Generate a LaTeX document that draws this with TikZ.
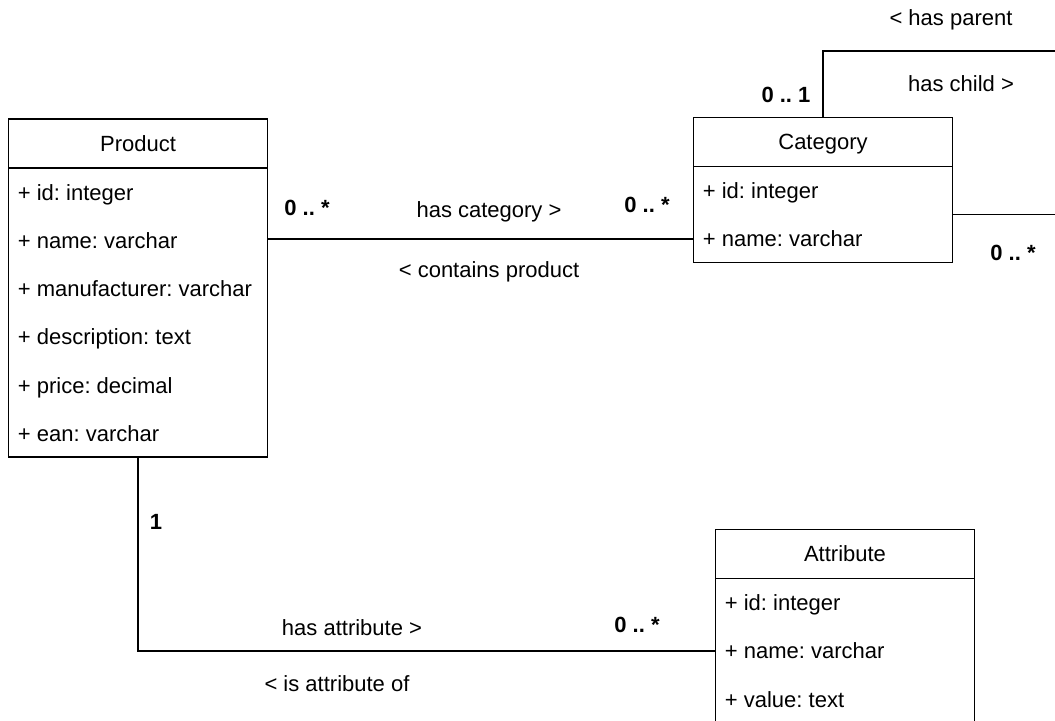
\documentclass[tikz,border=0pt]{standalone}
\usepackage{fontspec}
\setmainfont{Liberation Sans}
\frenchspacing
\usetikzlibrary{positioning,calc}
\tikzset{
  fig/.style={font=\fontsize{11}{13}\selectfont},
  hd/.style={draw,line width=0.9pt,minimum width=129.5pt,minimum height=24.5pt,
             inner sep=0pt,outer sep=0pt,text height=7.9pt,text depth=0pt},
  bd/.style={draw,line width=0.9pt,minimum width=129.5pt,inner sep=0pt,outer sep=0pt},
  row/.style={anchor=base west,inner sep=0pt},
  ln/.style={line width=0.9pt},
  lbl/.style={inner sep=1.5pt},
  mult/.style={font=\fontsize{11}{13}\selectfont\bfseries,inner sep=1.5pt},
}

\begin{document}
\begin{tikzpicture}[fig,x=0.5pt,y=-0.5pt]
\useasboundingbox (0,0) rectangle (1055,720);
\clip (0,0) rectangle (1055,720);

% classes
\node[hd] (prodhead) at (138,143.5) {Product};
\node[bd,minimum height=144.5pt,below=0pt of prodhead] (prodbody) {};
\foreach \t [count=\i] in {{+ id: integer},{+ name: varchar},{+ manufacturer: varchar},
    {+ description: text},{+ price: decimal},{+ ean: varchar}}
  \node[row] (prod-\i) at ($(prodbody.north west)+(9,32+48.3*\i-48.3)$) {\t};

\node[hd] (cathead) at (823,142) {Category};
\node[bd,minimum height=48pt,below=0pt of cathead] (catbody) {};
\foreach \t [count=\i] in {{+ id: integer},{+ name: varchar}}
  \node[row] (cat-\i) at ($(catbody.north west)+(9,32+48.3*\i-48.3)$) {\t};

\node[hd] (attrhead) at (845,554) {Attribute};
\node[bd,minimum height=72.5pt,below=0pt of attrhead] (attrbody) {};
\foreach \t [count=\i] in {{+ id: integer},{+ name: varchar},{+ value: text}}
  \node[row] (attr-\i) at ($(attrbody.north west)+(9,32+48.3*\i-48.3)$) {\t};

% associations
\draw[ln] (prodbody.east |- cat-2) -- (catbody.west |- cat-2)
  node[lbl,pos=0.52,yshift=13.5pt] (hascat) {has category >}
  node[lbl,pos=0.52,yshift=-16.5pt] (contains) {< contains product};
\node[mult] (m-pc1) at (307,208) {0 .. *};
\node[mult] (m-pc2) at (647,205) {0 .. *};

\coordinate (loopout) at (1080,51);
\draw[ln] (cathead.north) |- (loopout) |- (catbody.east);
\node[lbl] (hasparent) at (951,20) {< has parent};
\node[lbl] (haschild) at (961,84) {has child >};
\node[mult] (m-cc1) at (786,95) {0 .. 1};
\node[mult] (m-cc2) at (1013,253) {0 .. *};

\draw[ln] (prodbody.south) |- (attrbody.west |- attr-2);
\node[mult] (m-pa1) at (156,522) {1};
\node[lbl] (hasattr) at (352,628) {has attribute >};
\node[lbl] (isattr) at (337,684) {< is attribute of};
\node[mult] (m-pa2) at (637,625) {0 .. *};

\end{tikzpicture}
\end{document}
